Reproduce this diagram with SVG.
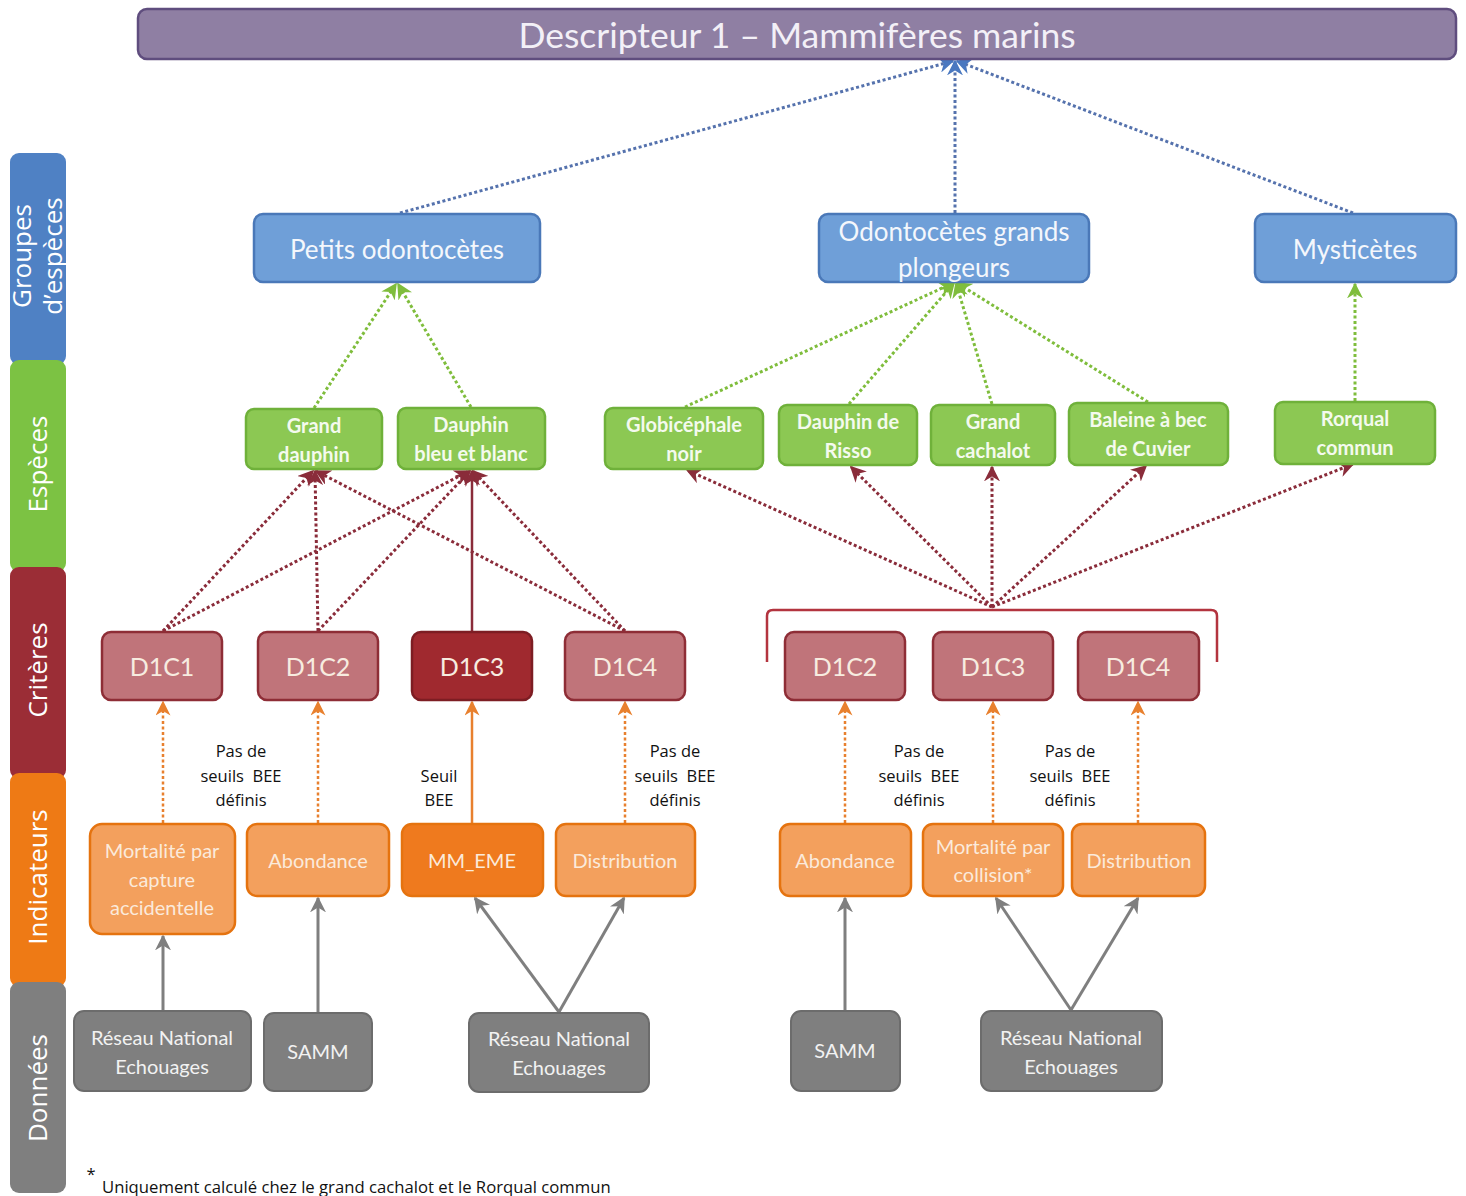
<svg xmlns="http://www.w3.org/2000/svg" width="1466" height="1196" viewBox="0 0 1466 1196">
<style>
text{font-family:Lato,"Open Sans","Liberation Sans",sans-serif;text-anchor:middle}
.bar{stroke:none}
.barT{fill:#fff;font-size:26px;font-family:"Open Sans",Lato,sans-serif}
.grp rect{fill:#6f9fd8;stroke:#4a78b8;stroke-width:2.5}
.grp text{fill:#f4f7fc;font-size:26px}
.sp rect{fill:#8cc853;stroke:#6fb13a;stroke-width:2.5}
.sp text{fill:#f4faee;font-size:20px;font-weight:bold}
.cr rect{fill:#c0747a;stroke:#8e2d36;stroke-width:2.5}
.cr text{fill:#f7ece0;font-size:25px}
.crd rect{fill:#a0292f;stroke:#7d1d23}
.ind rect{fill:#f3a05d;stroke:#e5730f;stroke-width:2.5}
.ind text{fill:#fbeadb;font-size:20px}
.indd rect{fill:#ef7a1e}
.dat rect{fill:#7f7f7f;stroke:#6c6c6c;stroke-width:2}
.dat text{fill:#f2f2f2;font-size:20px}
.lbl{fill:#111;font-size:16.5px;font-family:"Open Sans",Lato,sans-serif}
.c{fill:none;stroke-width:3}
.blue{stroke:#5572ad;stroke-dasharray:3 2.5;marker-end:url(#mB)}
.green{stroke:#7fbd3c;stroke-dasharray:3 2.5;marker-end:url(#mG)}
.red{stroke:#8a2c3a;stroke-dasharray:3 2.5;marker-end:url(#mR)}
.reds{stroke:#8a2c3a;stroke-width:2.5;marker-end:url(#mR)}
.or{stroke:#e8802e;stroke-width:2.5;stroke-dasharray:3 2.5;marker-end:url(#mO)}
.ors{stroke:#e8802e;stroke-width:2.5;marker-end:url(#mO)}
.gr{stroke:#7f7f7f;marker-end:url(#mK)}
</style>
<defs>
<marker id="mB" viewBox="0 0 10 10" refX="9" refY="5" markerWidth="16" markerHeight="16" markerUnits="userSpaceOnUse" orient="auto"><path d="M0,0 L10,5 L0,10 L3,5 z" fill="#4a78c0"/></marker>
<marker id="mG" viewBox="0 0 10 10" refX="9" refY="5" markerWidth="16" markerHeight="16" markerUnits="userSpaceOnUse" orient="auto"><path d="M0,0 L10,5 L0,10 L3,5 z" fill="#7fbd3c"/></marker>
<marker id="mR" viewBox="0 0 10 10" refX="9" refY="5" markerWidth="16" markerHeight="16" markerUnits="userSpaceOnUse" orient="auto"><path d="M0,0 L10,5 L0,10 L3,5 z" fill="#8a2c3a"/></marker>
<marker id="mO" viewBox="0 0 10 10" refX="9" refY="5" markerWidth="15" markerHeight="15" markerUnits="userSpaceOnUse" orient="auto"><path d="M0,0 L10,5 L0,10 L3,5 z" fill="#e8802e"/></marker>
<marker id="mK" viewBox="0 0 10 10" refX="9" refY="5" markerWidth="16" markerHeight="16" markerUnits="userSpaceOnUse" orient="auto"><path d="M0,0 L10,5 L0,10 L3,5 z" fill="#7f7f7f"/></marker>
</defs>
<rect width="1466" height="1196" fill="#fff"/>

<!-- left category bar -->
<g id="bar-groupes"><rect class="bar" x="10" y="153" width="56" height="212" rx="9" fill="#4f81c4"/>
<text class="barT" transform="translate(38,256) rotate(-90)"><tspan x="0" y="-7">Groupes</tspan><tspan x="0" y="24">d’espèces</tspan></text></g>
<g id="bar-especes"><rect class="bar" x="10" y="360" width="56" height="212" rx="9" fill="#7cc243"/>
<text class="barT" transform="translate(38,464) rotate(-90)" y="9">Espèces</text></g>
<g id="bar-criteres"><rect class="bar" x="10" y="567" width="56" height="212" rx="9" fill="#9b2d36"/>
<text class="barT" transform="translate(38,670) rotate(-90)" y="9">Critères</text></g>
<g id="bar-indicateurs"><rect class="bar" x="10" y="773" width="56" height="214" rx="9" fill="#ee7a15"/>
<text class="barT" transform="translate(38,877) rotate(-90)" y="9">Indicateurs</text></g>
<g id="bar-donnees"><rect class="bar" x="10" y="982" width="56" height="211" rx="9" fill="#7f7f7f"/>
<text class="barT" transform="translate(38,1088) rotate(-90)" y="9">Données</text></g>

<!-- connectors -->
<g id="connectors">
<path class="c blue" d="M400,213 L953,61"/>
<path class="c blue" d="M955,213 L955,61"/>
<path class="c blue" d="M1353,213 L957,61"/>

<path class="c green" d="M314,408 L396,284"/>
<path class="c green" d="M471,407 L398,284"/>
<path class="c green" d="M685,407 L953,283"/>
<path class="c green" d="M849,404 L954,283"/>
<path class="c green" d="M992,404 L956,283"/>
<path class="c green" d="M1148,402 L957,283"/>
<path class="c green" d="M1355,401 L1355,284"/>

<path class="c red" d="M163,631 L313,471"/>
<path class="c red" d="M163,631 L469,471"/>
<path class="c red" d="M318,631 L315,471"/>
<path class="c red" d="M318,631 L470,471"/>
<path class="c reds" d="M472,631 L472,471"/>
<path class="c red" d="M625,631 L316,471"/>
<path class="c red" d="M625,631 L473,471"/>

<path class="c red" d="M992,607 L687,470"/>
<path class="c red" d="M992,607 L851,467"/>
<path class="c red" d="M992,607 L992,467"/>
<path class="c red" d="M992,607 L1146,466"/>
<path class="c red" d="M992,607 L1353,464"/>
<path d="M767,662 L767,616 Q767,610 773,610 L1211,610 Q1217,610 1217,616 L1217,662" fill="none" stroke="#b3343f" stroke-width="2.5"/>

<path class="c or" d="M163,823 L163,702"/>
<path class="c or" d="M318,823 L318,702"/>
<path class="c ors" d="M472,823 L472,702"/>
<path class="c or" d="M625,823 L625,702"/>
<path class="c or" d="M845,823 L845,702"/>
<path class="c or" d="M993,823 L993,702"/>
<path class="c or" d="M1138,823 L1138,702"/>

<path class="c gr" d="M163,1010 L163,936"/>
<path class="c gr" d="M318,1012 L318,898"/>
<path class="c gr" d="M559,1012 L475,898"/>
<path class="c gr" d="M559,1012 L624,898"/>
<path class="c gr" d="M845,1010 L845,898"/>
<path class="c gr" d="M1071,1010 L996,898"/>
<path class="c gr" d="M1071,1010 L1138,898"/>
</g>

<!-- title -->
<g id="title"><rect x="138" y="9" width="1318" height="50" rx="9" fill="#8f7fa3" stroke="#5f4d7e" stroke-width="2.5"/>
<text x="797" y="48" font-size="35.5" fill="#f3f0f7">Descripteur 1 – Mammifères marins</text></g>

<!-- groups -->
<g id="g-petits" class="grp"><rect x="254" y="214" width="286" height="68" rx="9"/><text x="397" y="259">Petits odontocètes</text></g>
<g id="g-grands" class="grp"><rect x="819" y="214" width="270" height="68" rx="9"/><text x="954" y="241">Odontocètes grands</text><text x="954" y="277">plongeurs</text></g>
<g id="g-myst" class="grp"><rect x="1255" y="214" width="201" height="68" rx="9"/><text x="1355" y="259">Mysticètes</text></g>

<!-- species -->
<g id="s-grand-dauphin" class="sp"><rect x="246" y="409" width="136" height="60" rx="8"/><text x="314" y="433">Grand</text><text x="314" y="462">dauphin</text></g>
<g id="s-dauphin-bleu" class="sp"><rect x="398" y="408" width="147" height="61" rx="8"/><text x="471" y="432">Dauphin</text><text x="471" y="461">bleu et blanc</text></g>
<g id="s-globi" class="sp"><rect x="605" y="408" width="158" height="61" rx="8"/><text x="684" y="432">Globicéphale</text><text x="684" y="461">noir</text></g>
<g id="s-risso" class="sp"><rect x="779" y="405" width="138" height="60" rx="8"/><text x="848" y="429">Dauphin de</text><text x="848" y="458">Risso</text></g>
<g id="s-cachalot" class="sp"><rect x="931" y="405" width="124" height="60" rx="8"/><text x="993" y="429">Grand</text><text x="993" y="458">cachalot</text></g>
<g id="s-baleine" class="sp"><rect x="1069" y="403" width="159" height="62" rx="8"/><text x="1148" y="427">Baleine à bec</text><text x="1148" y="456">de Cuvier</text></g>
<g id="s-rorqual" class="sp"><rect x="1275" y="402" width="160" height="62" rx="8"/><text x="1355" y="426">Rorqual</text><text x="1355" y="455">commun</text></g>

<!-- criteria -->
<g id="c-d1c1" class="cr"><rect x="102" y="632" width="120" height="68" rx="9"/><text x="162" y="676">D1C1</text></g>
<g id="c-d1c2" class="cr"><rect x="258" y="632" width="120" height="68" rx="9"/><text x="318" y="676">D1C2</text></g>
<g id="c-d1c3" class="cr crd"><rect x="412" y="632" width="120" height="68" rx="9"/><text x="472" y="676">D1C3</text></g>
<g id="c-d1c4" class="cr"><rect x="565" y="632" width="120" height="68" rx="9"/><text x="625" y="676">D1C4</text></g>
<g id="c-d1c2-r" class="cr"><rect x="785" y="632" width="120" height="68" rx="9"/><text x="845" y="676">D1C2</text></g>
<g id="c-d1c3-r" class="cr"><rect x="933" y="632" width="120" height="68" rx="9"/><text x="993" y="676">D1C3</text></g>
<g id="c-d1c4-r" class="cr"><rect x="1078" y="632" width="121" height="68" rx="9"/><text x="1138" y="676">D1C4</text></g>

<!-- indicators -->
<g id="i-mortalite-capture" class="ind"><rect x="90" y="824" width="145" height="110" rx="12"/><text x="162" y="858">Mortalité par</text><text x="162" y="887">capture</text><text x="162" y="915">accidentelle</text></g>
<g id="i-abondance" class="ind"><rect x="247" y="824" width="142" height="72" rx="10"/><text x="318" y="868">Abondance</text></g>
<g id="i-mm-eme" class="ind indd"><rect x="402" y="824" width="141" height="72" rx="10"/><text x="472" y="868">MM_EME</text></g>
<g id="i-distribution" class="ind"><rect x="556" y="824" width="139" height="72" rx="10"/><text x="625" y="868">Distribution</text></g>
<g id="i-abondance-r" class="ind"><rect x="780" y="824" width="131" height="72" rx="10"/><text x="845" y="868">Abondance</text></g>
<g id="i-mortalite-collision" class="ind"><rect x="923" y="824" width="140" height="72" rx="10"/><text x="993" y="854">Mortalité par</text><text x="993" y="882">collision*</text></g>
<g id="i-distribution-r" class="ind"><rect x="1072" y="824" width="133" height="72" rx="10"/><text x="1139" y="868">Distribution</text></g>

<!-- data -->
<g id="d-rne-1" class="dat"><rect x="74" y="1011" width="177" height="80" rx="10"/><text x="162" y="1045">Réseau National</text><text x="162" y="1074">Echouages</text></g>
<g id="d-samm-1" class="dat"><rect x="264" y="1013" width="108" height="78" rx="10"/><text x="318" y="1059">SAMM</text></g>
<g id="d-rne-2" class="dat"><rect x="469" y="1013" width="180" height="79" rx="10"/><text x="559" y="1046">Réseau National</text><text x="559" y="1075">Echouages</text></g>
<g id="d-samm-2" class="dat"><rect x="791" y="1011" width="109" height="80" rx="10"/><text x="845" y="1058">SAMM</text></g>
<g id="d-rne-3" class="dat"><rect x="981" y="1011" width="181" height="80" rx="10"/><text x="1071" y="1045">Réseau National</text><text x="1071" y="1074">Echouages</text></g>

<!-- labels -->
<g id="labels">
<text class="lbl" x="241" y="757">Pas de</text><text class="lbl" x="241" y="782" xml:space="preserve">seuils  BEE</text><text class="lbl" x="241" y="806">définis</text>
<text class="lbl" x="439" y="782">Seuil</text><text class="lbl" x="439" y="806">BEE</text>
<text class="lbl" x="675" y="757">Pas de</text><text class="lbl" x="675" y="782" xml:space="preserve">seuils  BEE</text><text class="lbl" x="675" y="806">définis</text>
<text class="lbl" x="919" y="757">Pas de</text><text class="lbl" x="919" y="782" xml:space="preserve">seuils  BEE</text><text class="lbl" x="919" y="806">définis</text>
<text class="lbl" x="1070" y="757">Pas de</text><text class="lbl" x="1070" y="782" xml:space="preserve">seuils  BEE</text><text class="lbl" x="1070" y="806">définis</text>
<text class="lbl" x="91" y="1180" font-size="17">*</text>
<text class="lbl" x="102" y="1193" style="text-anchor:start;font-size:16.7px">Uniquement calculé chez le grand cachalot et le Rorqual commun</text>
</g>
</svg>
